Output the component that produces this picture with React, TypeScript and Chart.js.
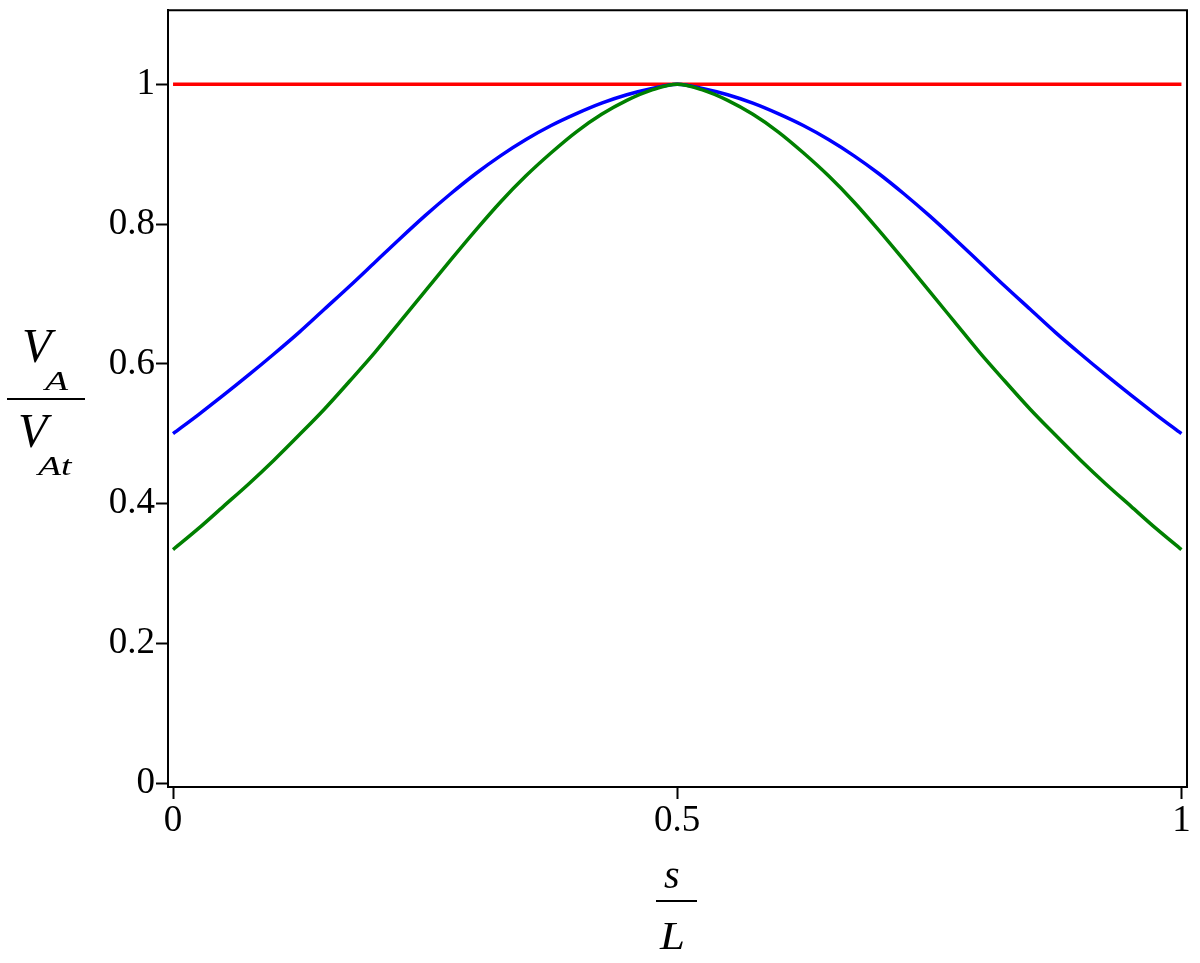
import React, { useEffect, useRef } from "react";
import { Chart, registerables } from "chart.js";

Chart.register(...registerables);

// s/L positions
const sValues = [
  0, 0.025, 0.05, 0.075, 0.1, 0.125, 0.15, 0.175, 0.2, 0.225,
  0.25, 0.275, 0.3, 0.325, 0.35, 0.375, 0.4, 0.425, 0.45, 0.475,
  0.5,
  0.525, 0.55, 0.575, 0.6, 0.625, 0.65, 0.675, 0.7, 0.725, 0.75,
  0.775, 0.8, 0.825, 0.85, 0.875, 0.9, 0.925, 0.95, 0.975, 1,
];
// blue curve V_A / V_At
const blueValues = [
  0.5, 0.527, 0.555, 0.584, 0.614, 0.645, 0.678, 0.711, 0.745, 0.779,
  0.812, 0.843, 0.872, 0.898, 0.921, 0.941, 0.958, 0.973, 0.985, 0.994,
  1.0,
  0.994, 0.985, 0.973, 0.958, 0.941, 0.921, 0.898, 0.872, 0.843, 0.812,
  0.779, 0.745, 0.711, 0.678, 0.645, 0.614, 0.584, 0.555, 0.527, 0.5,
];
// green curve V_A / V_At
const greenValues = [
  0.334, 0.364, 0.396, 0.428, 0.462, 0.498, 0.535, 0.575, 0.616, 0.66,
  0.704, 0.748, 0.791, 0.832, 0.869, 0.902, 0.932, 0.957, 0.977, 0.992,
  1.0,
  0.992, 0.977, 0.957, 0.932, 0.902, 0.869, 0.832, 0.791, 0.748, 0.704,
  0.66, 0.616, 0.575, 0.535, 0.498, 0.462, 0.428, 0.396, 0.364, 0.334,
];
// red reference line
const redS = [0, 1];
const redValues = [1, 1];

const xTicks = [0, 0.5, 1];
const xTickLabels = ["0", "0.5", "1"];
const yTicks = [0, 0.2, 0.4, 0.6, 0.8, 1];
const yTickLabels = ["0", "0.2", "0.4", "0.6", "0.8", "1"];

const SERIF = '"Liberation Serif", "Times New Roman", serif';

function wideText(ctx: CanvasRenderingContext2D, text: string, x: number, y: number, sx: number) {
  ctx.save();
  ctx.translate(x, y);
  ctx.scale(sx, 1);
  ctx.fillText(text, 0, 0);
  ctx.restore();
}

const framePlugin = {
  id: "frameAndTitles",
  afterDraw(chart: any) {
    const { ctx, chartArea } = chart;
    const { left, right, top, bottom } = chartArea;
    ctx.save();
    ctx.strokeStyle = "#000";
    ctx.lineWidth = 2;
    ctx.beginPath();
    ctx.moveTo(left, top);
    ctx.lineTo(right, top);
    ctx.lineTo(right, bottom);
    ctx.stroke();

    ctx.fillStyle = "#000";
    ctx.textBaseline = "alphabetic";
    ctx.textAlign = "left";
    // y-axis title: V_A / V_At
    ctx.font = `italic 48px ${SERIF}`;
    ctx.fillText("V", 22, 362);
    ctx.font = `italic 28px ${SERIF}`;
    wideText(ctx, "A", 45, 390, 1.35);
    ctx.beginPath();
    ctx.moveTo(7, 399);
    ctx.lineTo(85, 399);
    ctx.stroke();
    ctx.font = `italic 48px ${SERIF}`;
    ctx.fillText("V", 18, 447);
    ctx.font = `italic 28px ${SERIF}`;
    wideText(ctx, "At", 38, 475, 1.35);

    // x-axis title: s / L
    ctx.font = `italic 40px ${SERIF}`;
    ctx.fillText("s", 664, 888);
    ctx.beginPath();
    ctx.moveTo(656, 901);
    ctx.lineTo(697, 901);
    ctx.stroke();
    wideText(ctx, "L", 660, 949, 1.12);
    ctx.restore();
  },
};

export default function App() {
  const canvasRef = useRef<HTMLCanvasElement | null>(null);

  useEffect(() => {
    const canvas = canvasRef.current;
    if (!canvas) return;
    const toPts = (xs: number[], ys: number[]) => xs.map((x, i) => ({ x, y: ys[i] }));
    const chart = new Chart(canvas, {
      type: "line",
      data: {
        datasets: [
          {
            data: toPts(sValues, greenValues),
            borderColor: "#008000",
            borderWidth: 3.5,
            pointRadius: 0,
            cubicInterpolationMode: "monotone",
            fill: false,
          },
          {
            data: toPts(sValues, blueValues),
            borderColor: "#0000ff",
            borderWidth: 3.5,
            pointRadius: 0,
            cubicInterpolationMode: "monotone",
            fill: false,
          },
          {
            data: toPts(redS, redValues),
            borderColor: "#ff0000",
            borderWidth: 3.5,
            pointRadius: 0,
            fill: false,
          },
        ],
      },
      options: {
        animation: false,
        responsive: false,
        devicePixelRatio: 1,
        layout: { padding: { left: 0, top: 9.5, right: 13, bottom: 0 } },
        plugins: {
          legend: { display: false },
          tooltip: { enabled: false },
        },
        scales: {
          x: {
            type: "linear",
            min: -0.005,
            max: 1.0055,
            afterBuildTicks: (scale: any) => {
              scale.ticks = xTicks.map((v) => ({ value: v }));
            },
            afterFit: (scale: any) => {
              scale.height = 176;
            },
            ticks: {
              color: "#000",
              font: { family: SERIF, size: 37, lineHeight: 1.2 },
              padding: 0,
              maxRotation: 0,
              autoSkip: false,
              callback: (v: any) => {
                const i = xTicks.indexOf(Number(v));
                return i >= 0 ? xTickLabels[i] : "";
              },
            },
            grid: {
              display: true,
              drawOnChartArea: false,
              drawTicks: true,
              tickLength: 12,
              tickWidth: 2,
              tickColor: "#000",
              color: "#000",
            },
            border: { display: true, color: "#000", width: 2 },
          },
          y: {
            type: "linear",
            min: -0.0057,
            max: 1.106,
            afterBuildTicks: (scale: any) => {
              scale.ticks = yTicks.map((v) => ({ value: v }));
            },
            afterFit: (scale: any) => {
              scale.width = 168;
            },
            ticks: {
              color: "#000",
              font: { family: SERIF, size: 37, lineHeight: 0.5 },
              padding: 1,
              autoSkip: false,
              callback: (v: any) => {
                const i = yTicks.indexOf(Number(v));
                return i >= 0 ? yTickLabels[i] : "";
              },
            },
            grid: {
              display: true,
              drawOnChartArea: false,
              drawTicks: true,
              tickLength: 12,
              tickWidth: 2,
              tickColor: "#000",
              color: "#000",
            },
            border: { display: true, color: "#000", width: 2 },
          },
        },
      },
      plugins: [framePlugin],
    });
    return () => chart.destroy();
  }, []);

  return (
    <div style={{ position: "absolute", left: 0, top: 0, width: 1200, height: 963, background: "#fff" }}>
      <canvas ref={canvasRef} width={1200} height={963} style={{ display: "block" }} />
    </div>
  );
}
